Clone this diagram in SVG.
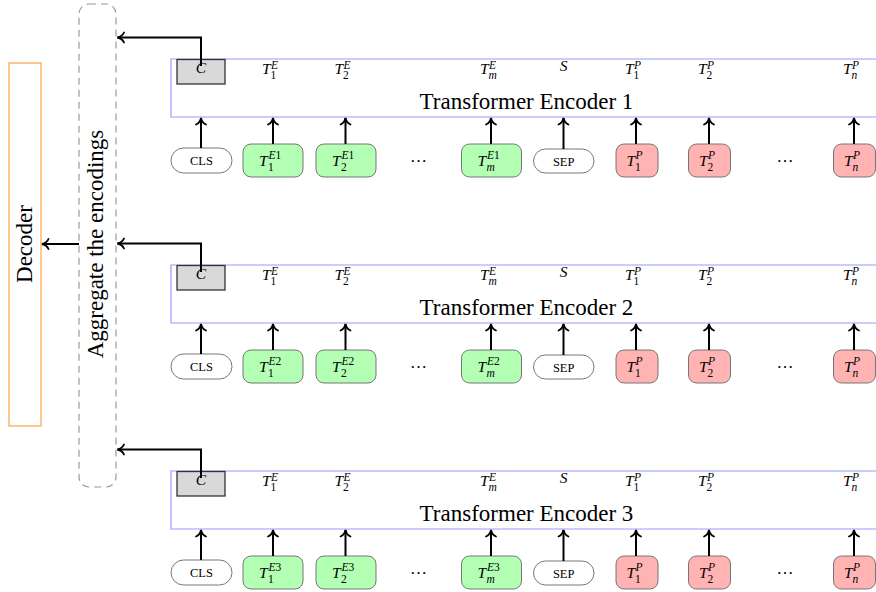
<svg xmlns="http://www.w3.org/2000/svg" width="876" height="592" viewBox="0 0 876 592">
<style>
text{font-family:"Liberation Serif","Times New Roman",serif;fill:#000}
.m{font-style:italic;font-size:15.5px}
.s{font-size:11.5px}
.si{font-size:11.5px;font-style:italic}
.title{font-size:23px;text-anchor:middle}
.tk{font-size:12.5px;text-anchor:middle}
.dots{font-size:17px;text-anchor:middle}
.enc{fill:none;stroke:#9999ff;stroke-width:1.2}
.cbox{fill:#d9d9d9;stroke:#333;stroke-width:1.3}
.pill{fill:#fff;stroke:#777;stroke-width:1}
.g{fill:#b3ffb3;stroke:#777;stroke-width:1}
.r{fill:#ffb3b3;stroke:#777;stroke-width:1}
.ar{fill:none;stroke:#000;stroke-width:2}
</style>
<defs>
<marker id="ah" markerUnits="userSpaceOnUse" viewBox="-8 -7 10 14" refX="0" refY="0" markerWidth="10" markerHeight="14" orient="auto">
<path d="M-6.5,-5 C-5.2,-2 -2.2,-0.5 0,0 C-2.2,0.5 -5.2,2 -6.5,5" fill="none" stroke="#000" stroke-width="1.8" stroke-linecap="round"/>
</marker>
</defs>

<g id="decoder">
<rect x="9" y="63" width="32" height="363" fill="none" stroke="#ffa347" stroke-width="1.2"/>
<text transform="translate(32,244) rotate(-90)" font-size="23" text-anchor="middle">Decoder</text>
</g>

<g id="aggregate">
<rect x="79" y="4" width="37" height="483" rx="10" fill="none" stroke="#999" stroke-width="1.2" stroke-dasharray="7 5"/>
<text transform="translate(103,244) rotate(-90)" font-size="23" text-anchor="middle">Aggregate the encodings</text>
</g>

<g id="encoder1">
<g id="enc1-box"><path class="enc" d="M900,59 H171 V117 H900"/><text class="title" x="526.5" y="109">Transformer Encoder 1</text></g>
<g id="enc1-c"><rect class="cbox" x="177" y="59.5" width="48" height="24.5"/><text class="m" x="201" y="73" text-anchor="middle">C</text></g>
<g id="enc1-out">
<text class="m" x="262" y="74">T</text><text class="si" x="271" y="68.5">E</text><text class="s" x="270.5" y="79">1</text>
<text class="m" x="334.5" y="74">T</text><text class="si" x="343.5" y="68.5">E</text><text class="s" x="343" y="79">2</text>
<text class="m" x="480" y="74">T</text><text class="si" x="489" y="68.5">E</text><text class="si" x="488.5" y="79">m</text>
<text class="m" x="563.5" y="70.5" text-anchor="middle" font-size="13">S</text>
<text class="m" x="625" y="74">T</text><text class="si" x="634" y="68.5">P</text><text class="s" x="633.5" y="79">1</text>
<text class="m" x="698" y="74">T</text><text class="si" x="707" y="68.5">P</text><text class="s" x="706.5" y="79">2</text>
<text class="m" x="843" y="74">T</text><text class="si" x="852" y="68.5">P</text><text class="si" x="851.5" y="79">n</text>
</g>
<g id="enc1-cls"><rect class="pill" x="171" y="148" width="61" height="25" rx="12.5"/><text class="tk" x="201.5" y="165">CLS</text></g>
<g id="enc1-e1"><rect class="g" x="243" y="144" width="60" height="33" rx="8"/><text class="m" x="259" y="165.5">T</text><text class="s" x="268.5" y="159"><tspan font-style="italic">E</tspan>1</text><text class="s" x="268" y="170.5">1</text></g>
<g id="enc1-e2"><rect class="g" x="316" y="144" width="60" height="33" rx="8"/><text class="m" x="332" y="165.5">T</text><text class="s" x="341.5" y="159"><tspan font-style="italic">E</tspan>1</text><text class="s" x="341" y="170.5">2</text></g>
<text class="dots" x="418.5" y="162">…</text>
<g id="enc1-em"><rect class="g" x="461.5" y="144" width="60" height="33" rx="8"/><text class="m" x="477.5" y="165.5">T</text><text class="s" x="487" y="159"><tspan font-style="italic">E</tspan>1</text><text class="si" x="486.5" y="170.5">m</text></g>
<g id="enc1-sep"><rect class="pill" x="533.5" y="149" width="60.5" height="24" rx="12"/><text class="tk" x="563.7" y="165.5" font-size="12">SEP</text></g>
<g id="enc1-p1"><rect class="r" x="616" y="144" width="42" height="33" rx="8"/><text class="m" x="626.5" y="165.5">T</text><text class="si" x="635.5" y="159">P</text><text class="s" x="635" y="170.5">1</text></g>
<g id="enc1-p2"><rect class="r" x="688.5" y="144" width="42" height="33" rx="8"/><text class="m" x="699" y="165.5">T</text><text class="si" x="708" y="159">P</text><text class="s" x="707.5" y="170.5">2</text></g>
<text class="dots" x="785" y="162">…</text>
<g id="enc1-pn"><rect class="r" x="833.5" y="144" width="42" height="33" rx="8"/><text class="m" x="844" y="165.5">T</text><text class="si" x="853" y="159">P</text><text class="si" x="852.5" y="170.5">n</text></g>
</g>

<g id="encoder2" transform="translate(0,206)">
<g id="enc2-box"><path class="enc" d="M900,59 H171 V117 H900"/><text class="title" x="526.5" y="109">Transformer Encoder 2</text></g>
<g id="enc2-c"><rect class="cbox" x="177" y="59.5" width="48" height="24.5"/><text class="m" x="201" y="73" text-anchor="middle">C</text></g>
<g id="enc2-out">
<text class="m" x="262" y="74">T</text><text class="si" x="271" y="68.5">E</text><text class="s" x="270.5" y="79">1</text>
<text class="m" x="334.5" y="74">T</text><text class="si" x="343.5" y="68.5">E</text><text class="s" x="343" y="79">2</text>
<text class="m" x="480" y="74">T</text><text class="si" x="489" y="68.5">E</text><text class="si" x="488.5" y="79">m</text>
<text class="m" x="563.5" y="70.5" text-anchor="middle" font-size="13">S</text>
<text class="m" x="625" y="74">T</text><text class="si" x="634" y="68.5">P</text><text class="s" x="633.5" y="79">1</text>
<text class="m" x="698" y="74">T</text><text class="si" x="707" y="68.5">P</text><text class="s" x="706.5" y="79">2</text>
<text class="m" x="843" y="74">T</text><text class="si" x="852" y="68.5">P</text><text class="si" x="851.5" y="79">n</text>
</g>
<g id="enc2-cls"><rect class="pill" x="171" y="148" width="61" height="25" rx="12.5"/><text class="tk" x="201.5" y="165">CLS</text></g>
<g id="enc2-e1"><rect class="g" x="243" y="144" width="60" height="33" rx="8"/><text class="m" x="259" y="165.5">T</text><text class="s" x="268.5" y="159"><tspan font-style="italic">E</tspan>2</text><text class="s" x="268" y="170.5">1</text></g>
<g id="enc2-e2"><rect class="g" x="316" y="144" width="60" height="33" rx="8"/><text class="m" x="332" y="165.5">T</text><text class="s" x="341.5" y="159"><tspan font-style="italic">E</tspan>2</text><text class="s" x="341" y="170.5">2</text></g>
<text class="dots" x="418.5" y="162">…</text>
<g id="enc2-em"><rect class="g" x="461.5" y="144" width="60" height="33" rx="8"/><text class="m" x="477.5" y="165.5">T</text><text class="s" x="487" y="159"><tspan font-style="italic">E</tspan>2</text><text class="si" x="486.5" y="170.5">m</text></g>
<g id="enc2-sep"><rect class="pill" x="533.5" y="149" width="60.5" height="24" rx="12"/><text class="tk" x="563.7" y="165.5" font-size="12">SEP</text></g>
<g id="enc2-p1"><rect class="r" x="616" y="144" width="42" height="33" rx="8"/><text class="m" x="626.5" y="165.5">T</text><text class="si" x="635.5" y="159">P</text><text class="s" x="635" y="170.5">1</text></g>
<g id="enc2-p2"><rect class="r" x="688.5" y="144" width="42" height="33" rx="8"/><text class="m" x="699" y="165.5">T</text><text class="si" x="708" y="159">P</text><text class="s" x="707.5" y="170.5">2</text></g>
<text class="dots" x="785" y="162">…</text>
<g id="enc2-pn"><rect class="r" x="833.5" y="144" width="42" height="33" rx="8"/><text class="m" x="844" y="165.5">T</text><text class="si" x="853" y="159">P</text><text class="si" x="852.5" y="170.5">n</text></g>
</g>

<g id="encoder3" transform="translate(0,412)">
<g id="enc3-box"><path class="enc" d="M900,59 H171 V117 H900"/><text class="title" x="526.5" y="109">Transformer Encoder 3</text></g>
<g id="enc3-c"><rect class="cbox" x="177" y="59.5" width="48" height="24.5"/><text class="m" x="201" y="73" text-anchor="middle">C</text></g>
<g id="enc3-out">
<text class="m" x="262" y="74">T</text><text class="si" x="271" y="68.5">E</text><text class="s" x="270.5" y="79">1</text>
<text class="m" x="334.5" y="74">T</text><text class="si" x="343.5" y="68.5">E</text><text class="s" x="343" y="79">2</text>
<text class="m" x="480" y="74">T</text><text class="si" x="489" y="68.5">E</text><text class="si" x="488.5" y="79">m</text>
<text class="m" x="563.5" y="70.5" text-anchor="middle" font-size="13">S</text>
<text class="m" x="625" y="74">T</text><text class="si" x="634" y="68.5">P</text><text class="s" x="633.5" y="79">1</text>
<text class="m" x="698" y="74">T</text><text class="si" x="707" y="68.5">P</text><text class="s" x="706.5" y="79">2</text>
<text class="m" x="843" y="74">T</text><text class="si" x="852" y="68.5">P</text><text class="si" x="851.5" y="79">n</text>
</g>
<g id="enc3-cls"><rect class="pill" x="171" y="148" width="61" height="25" rx="12.5"/><text class="tk" x="201.5" y="165">CLS</text></g>
<g id="enc3-e1"><rect class="g" x="243" y="144" width="60" height="33" rx="8"/><text class="m" x="259" y="165.5">T</text><text class="s" x="268.5" y="159"><tspan font-style="italic">E</tspan>3</text><text class="s" x="268" y="170.5">1</text></g>
<g id="enc3-e2"><rect class="g" x="316" y="144" width="60" height="33" rx="8"/><text class="m" x="332" y="165.5">T</text><text class="s" x="341.5" y="159"><tspan font-style="italic">E</tspan>3</text><text class="s" x="341" y="170.5">2</text></g>
<text class="dots" x="418.5" y="162">…</text>
<g id="enc3-em"><rect class="g" x="461.5" y="144" width="60" height="33" rx="8"/><text class="m" x="477.5" y="165.5">T</text><text class="s" x="487" y="159"><tspan font-style="italic">E</tspan>3</text><text class="si" x="486.5" y="170.5">m</text></g>
<g id="enc3-sep"><rect class="pill" x="533.5" y="149" width="60.5" height="24" rx="12"/><text class="tk" x="563.7" y="165.5" font-size="12">SEP</text></g>
<g id="enc3-p1"><rect class="r" x="616" y="144" width="42" height="33" rx="8"/><text class="m" x="626.5" y="165.5">T</text><text class="si" x="635.5" y="159">P</text><text class="s" x="635" y="170.5">1</text></g>
<g id="enc3-p2"><rect class="r" x="688.5" y="144" width="42" height="33" rx="8"/><text class="m" x="699" y="165.5">T</text><text class="si" x="708" y="159">P</text><text class="s" x="707.5" y="170.5">2</text></g>
<text class="dots" x="785" y="162">…</text>
<g id="enc3-pn"><rect class="r" x="833.5" y="144" width="42" height="33" rx="8"/><text class="m" x="844" y="165.5">T</text><text class="si" x="853" y="159">P</text><text class="si" x="852.5" y="170.5">n</text></g>
</g>

<g id="connectors">
<path class="ar" marker-end="url(#ah)" d="M201,66 V37.5 H117.5"/>
<path class="ar" marker-end="url(#ah)" d="M201,272 V243.5 H117.5"/>
<path class="ar" marker-end="url(#ah)" d="M201,478 V449.5 H117.5"/>
<path class="ar" marker-end="url(#ah)" d="M79,244 H42"/>
<path class="ar" marker-end="url(#ah)" d="M201,148 V118"/>
<path class="ar" marker-end="url(#ah)" d="M273,144 V118"/>
<path class="ar" marker-end="url(#ah)" d="M345.5,144 V118"/>
<path class="ar" marker-end="url(#ah)" d="M491,144 V118"/>
<path class="ar" marker-end="url(#ah)" d="M563.5,149 V118"/>
<path class="ar" marker-end="url(#ah)" d="M636,144 V118"/>
<path class="ar" marker-end="url(#ah)" d="M709,144 V118"/>
<path class="ar" marker-end="url(#ah)" d="M854,144 V118"/>
<path class="ar" marker-end="url(#ah)" d="M201,354 V324"/>
<path class="ar" marker-end="url(#ah)" d="M273,350 V324"/>
<path class="ar" marker-end="url(#ah)" d="M345.5,350 V324"/>
<path class="ar" marker-end="url(#ah)" d="M491,350 V324"/>
<path class="ar" marker-end="url(#ah)" d="M563.5,355 V324"/>
<path class="ar" marker-end="url(#ah)" d="M636,350 V324"/>
<path class="ar" marker-end="url(#ah)" d="M709,350 V324"/>
<path class="ar" marker-end="url(#ah)" d="M854,350 V324"/>
<path class="ar" marker-end="url(#ah)" d="M201,560 V530"/>
<path class="ar" marker-end="url(#ah)" d="M273,556 V530"/>
<path class="ar" marker-end="url(#ah)" d="M345.5,556 V530"/>
<path class="ar" marker-end="url(#ah)" d="M491,556 V530"/>
<path class="ar" marker-end="url(#ah)" d="M563.5,561 V530"/>
<path class="ar" marker-end="url(#ah)" d="M636,556 V530"/>
<path class="ar" marker-end="url(#ah)" d="M709,556 V530"/>
<path class="ar" marker-end="url(#ah)" d="M854,556 V530"/>
</g>
</svg>
